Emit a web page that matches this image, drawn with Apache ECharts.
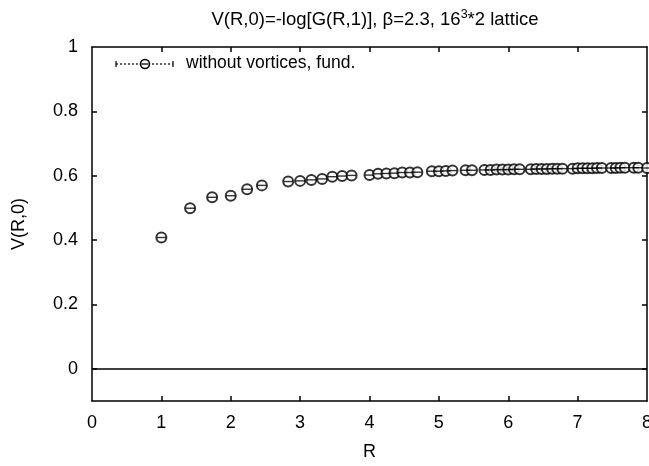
<!DOCTYPE html>
<html>
<head>
<meta charset="utf-8">
<script src="https://cdn.jsdelivr.net/npm/echarts@6/dist/echarts.min.js"></script>
<style>html,body{margin:0;padding:0;background:#fff}#c{width:649px;height:466px}</style>
</head>
<body>
<div id="c"></div>
<script>
// R values (lattice distances) and measured potential
var rValues = [1, 1.414, 1.732, 2, 2.236, 2.449, 2.828, 3, 3.162, 3.317, 3.464, 3.606, 3.742,
  4, 4.123, 4.243, 4.359, 4.472, 4.583, 4.690, 4.899, 5, 5.099, 5.196, 5.385, 5.477,
  5.657, 5.745, 5.831, 5.916, 6, 6.083, 6.164, 6.325, 6.403, 6.481, 6.557, 6.633, 6.708, 6.782,
  6.928, 7, 7.071, 7.141, 7.211, 7.280, 7.348, 7.483, 7.550, 7.616, 7.681, 7.810, 7.874, 8];
var vValues = [0.408, 0.499, 0.533, 0.538, 0.558, 0.570, 0.582, 0.584, 0.587, 0.590, 0.597, 0.599, 0.601,
  0.602, 0.606, 0.607, 0.608, 0.610, 0.610, 0.611, 0.614, 0.614, 0.615, 0.616, 0.617, 0.617,
  0.618, 0.618, 0.619, 0.619, 0.619, 0.620, 0.620, 0.620, 0.621, 0.621, 0.621, 0.622, 0.622, 0.622,
  0.622, 0.623, 0.623, 0.623, 0.623, 0.624, 0.624, 0.624, 0.624, 0.625, 0.625, 0.625, 0.625, 0.624];
var xTicks = [0, 1, 2, 3, 4, 5, 6, 7, 8];
var yTicks = [0, 0.2, 0.4, 0.6, 0.8, 1];
var seriesName = 'without vortices, fund.';

var pts = rValues.map(function (r, i) { return [r, vValues[i]]; });
var F = 'Liberation Sans, Arial, Helvetica, sans-serif';
var chart = echarts.init(document.getElementById('c'), null, {renderer: 'canvas'});
var axisLine = {show: true, onZero: false, lineStyle: {color: '#000', width: 1.5}};
function yFmt(v) { return v === 0 ? '0' : (v === 1 ? '1' : v.toFixed(1)); }
chart.setOption({
  animation: false,
  backgroundColor: '#fff',
  title: {
    left: 370, top: 3, textAlign: 'center',
    text: '{a|V(R,0)=-log[G(R,1)], β=2.3, 16}{s|3}{a|*2 lattice}',
    textStyle: {
      rich: {
        a: {fontFamily: F, fontSize: 18.5, fontWeight: 'normal', color: '#000'},
        s: {fontFamily: F, fontSize: 12.5, fontWeight: 'normal', color: '#000', padding: [0, 0, 10, 0]}
      }
    }
  },
  grid: {left: 92, right: 2, top: 47, bottom: 65, outerBoundsMode: 'none'},
  xAxis: [{
    type: 'value', min: 0, max: 8, interval: 1, position: 'bottom',
    name: 'R', nameLocation: 'middle', nameGap: 42,
    nameTextStyle: {fontFamily: F, fontSize: 18, color: '#000'},
    axisLine: axisLine,
    axisTick: {show: true, inside: true, length: 5, lineStyle: {color: '#000', width: 1.5}, customValues: xTicks.slice(1, -1)},
    axisLabel: {fontFamily: F, fontSize: 18, color: '#000', margin: 13, customValues: xTicks},
    splitLine: {show: false}
  }, {
    type: 'value', min: 0, max: 8, interval: 1, position: 'top',
    axisLine: axisLine,
    axisTick: {show: true, inside: true, length: 5, lineStyle: {color: '#000', width: 1.5}, customValues: xTicks.slice(1, -1)},
    axisLabel: {show: false},
    splitLine: {show: false}
  }],
  yAxis: [{
    type: 'value', min: -0.1, max: 1, interval: 0.1, position: 'left',
    name: 'V(R,0)', nameLocation: 'middle', nameGap: 64, nameRotate: 90,
    nameTextStyle: {fontFamily: F, fontSize: 18, color: '#000'},
    axisLine: axisLine,
    axisTick: {show: true, inside: true, length: 5, lineStyle: {color: '#000', width: 1.5}, customValues: yTicks.slice(0, -1)},
    axisLabel: {fontFamily: F, fontSize: 18, color: '#000', margin: 14, customValues: yTicks, formatter: yFmt},
    splitLine: {show: false}
  }, {
    type: 'value', min: -0.1, max: 1, interval: 0.1, position: 'right',
    axisLine: axisLine,
    axisTick: {show: true, inside: true, length: 5, lineStyle: {color: '#000', width: 1.5}, customValues: yTicks.slice(0, -1)},
    axisLabel: {show: false},
    splitLine: {show: false}
  }],
  series: [{
    name: seriesName,
    type: 'scatter',
    data: pts,
    symbol: 'emptyCircle',
    symbolSize: 10,
    itemStyle: {color: '#000', borderColor: '#000', borderWidth: 1.7},
    markLine: {
      silent: true, symbol: 'none', label: {show: false},
      lineStyle: {color: '#000', width: 1.5, type: 'solid'},
      data: [{yAxis: 0}]
    },
    z: 3
  }, {
    name: 'bar',
    type: 'scatter',
    data: pts,
    symbol: 'rect',
    symbolSize: [9, 1.4],
    itemStyle: {color: '#000'},
    z: 4
  }],
  graphic: [
    {type: 'line', shape: {x1: 116, y1: 64, x2: 173, y2: 64}, style: {stroke: '#000', lineWidth: 1.2, lineDash: [2, 2]}},
    {type: 'line', shape: {x1: 116, y1: 61, x2: 116, y2: 67}, style: {stroke: '#000', lineWidth: 1.2}},
    {type: 'line', shape: {x1: 173, y1: 61, x2: 173, y2: 67}, style: {stroke: '#000', lineWidth: 1.2}},
    {type: 'circle', shape: {cx: 145, cy: 64, r: 4.5}, style: {fill: '#fff', stroke: '#000', lineWidth: 1.6}},
    {type: 'line', shape: {x1: 141.5, y1: 64, x2: 148.5, y2: 64}, style: {stroke: '#000', lineWidth: 1.3}},
    {type: 'text', left: 186, top: 54, style: {text: seriesName, fontFamily: F, fontSize: 17.5, fill: '#000'}}
  ]
});
</script>
</body>
</html>
